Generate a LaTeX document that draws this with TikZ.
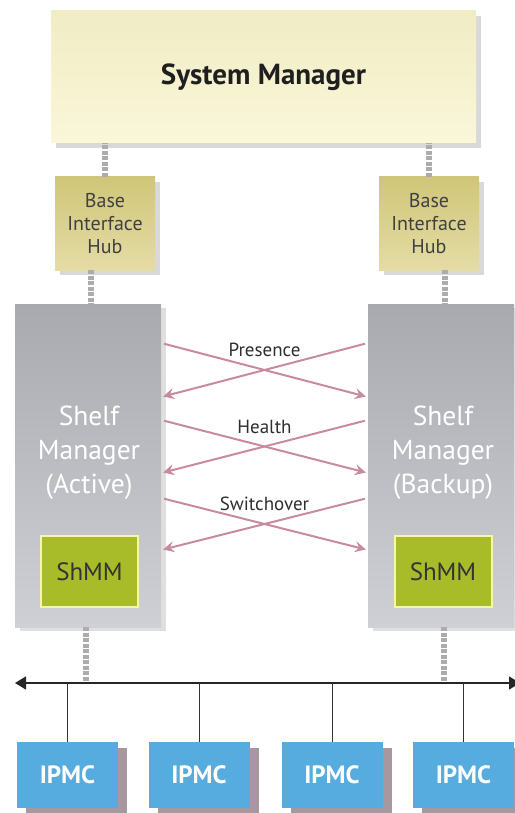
\documentclass[tikz,border=0pt]{standalone}
\usepackage{fontspec}
\setmainfont{PT Sans}
\usetikzlibrary{arrows.meta,shadows}

\definecolor{smfill}{RGB}{250,247,218}
\definecolor{smtop}{RGB}{240,236,196}
\definecolor{hubtop}{RGB}{208,198,122}
\definecolor{hubbot}{RGB}{228,220,165}
\definecolor{shelftop}{RGB}{168,170,175}
\definecolor{shelfbot}{RGB}{206,208,213}
\definecolor{shmmfill}{RGB}{168,188,42}
\definecolor{shmmline}{RGB}{246,246,176}
\definecolor{ipmcfill}{RGB}{86,172,222}
\definecolor{ipmcshade}{RGB}{166,152,158}
\definecolor{sigcol}{RGB}{200,138,160}
\definecolor{linkgray}{RGB}{172,172,172}

\tikzset{
  box/.style={rectangle, inner sep=0pt, align=center},
  sysmgr/.style={box, top color=smtop, bottom color=smfill,
    drop shadow={opacity=.3, shadow xshift=5pt, shadow yshift=-5pt}},
  hub/.style={box, top color=hubtop, bottom color=hubbot, text=black!75,
    font=\fontsize{20}{23}\selectfont,
    minimum width=100pt, minimum height=93pt,
    drop shadow={opacity=.3, shadow xshift=5pt, shadow yshift=-5pt}},
  shelf/.style={box, top color=shelftop, bottom color=shelfbot,
    minimum width=146pt, minimum height=323pt,
    drop shadow={opacity=.25, shadow xshift=5pt, shadow yshift=-4pt}},
  shelftext/.style={align=center, text=white,
    font=\fontsize{27.5}{34}\selectfont},
  shmm/.style={box, fill=shmmfill, draw=shmmline, line width=2pt,
    minimum width=97pt, minimum height=71pt, text=black!80,
    font=\fontsize{25}{28}\selectfont},
  ipmc/.style={box, fill=ipmcfill, text=white, minimum width=101pt,
    minimum height=66pt, font=\bfseries\fontsize{25}{28}\selectfont,
    drop shadow={opacity=1, fill=ipmcshade, shadow xshift=9pt, shadow yshift=-6pt}},
  link/.style={linkgray, line width=6pt, dash pattern=on 4pt off 1.5pt},
  signal/.style={sigcol, line width=2pt, shorten <=3pt, shorten >=2pt,
    -{Stealth[length=11pt,width=11pt,inset=4pt]}},
  siglabel/.style={text=black!82, font=\fontsize{19}{21}\selectfont},
  bus/.style={black!85, line width=1.3pt},
  drop/.style={black!80, line width=1pt}
}

\begin{document}
\begin{tikzpicture}[x=1pt,y=-1pt]
\useasboundingbox (0,0) rectangle (514,813);

% managers
\node[sysmgr, minimum width=425pt, minimum height=132pt,
  font=\bfseries\fontsize{29}{32}\selectfont, text=black!88] (sm) at (263.5,77) {System Manager};
\node[hub] (hubA) at (105,223.5) {Base\\Interface\\Hub};
\node[hub] (hubB) at (429,223.5) {Base\\Interface\\Hub};
\node[shelf] (shelfA) at (88,465.5) {};
\node[shelf] (shelfB) at (441,465.5) {};
\node[shelftext] (txtA) at (89,453) {Shelf\\Manager\\(Active)};
\node[shelftext] (txtB) at (443,453) {Shelf\\Manager\\(Backup)};
\node[shmm] (shmmA) at (89.5,571.5) {ShMM};
\node[shmm] (shmmB) at (443,571.5) {ShMM};

% ipmc row
\foreach \n/\x in {1/67.5,2/199,3/332,4/463.5}
  \node[ipmc] (ipmc\n) at (\x,775) {IPMC};

% dashed links
\draw[link] (hubA.north) -- (hubA.north |- sm.south);
\draw[link] (hubB.north) -- (hubB.north |- sm.south);
\draw[link] ([xshift=-14pt]hubA.south) -- ([xshift=-14pt]hubA.south |- shelfA.north);
\draw[link] ([xshift=16pt]hubB.south) -- ([xshift=16pt]hubB.south |- shelfB.north);

% bus
\coordinate (busL) at (15,683);
\coordinate (busR) at (520,683);
\draw[link] ([xshift=-2pt]shelfA.south) -- ([xshift=-2pt]shelfA.south |- busL);
\draw[link] ([xshift=3pt]shelfB.south) -- ([xshift=3pt]shelfB.south |- busL);
\draw[bus, {Triangle[length=11pt,width=13pt]}-{Triangle[length=11pt,width=13pt]}] (busL) -- (busR);
\foreach \n in {1,...,4}
  \draw[drop] (ipmc\n.north) -- (ipmc\n.north |- busL);

% heartbeat signals
\foreach \t/\b/\lbl in {122.5/68.5/Presence, 45.5/-7.5/Health, -32.5/-84.5/Switchover}{
  \draw[signal] ([yshift=\t pt]shelfA.east) -- ([yshift=\b pt]shelfB.west)
    node[midway, yshift=20pt, siglabel] {\lbl};
  \draw[signal] ([yshift=\t pt]shelfB.west) -- ([yshift=\b pt]shelfA.east);
}
\end{tikzpicture}
\end{document}
